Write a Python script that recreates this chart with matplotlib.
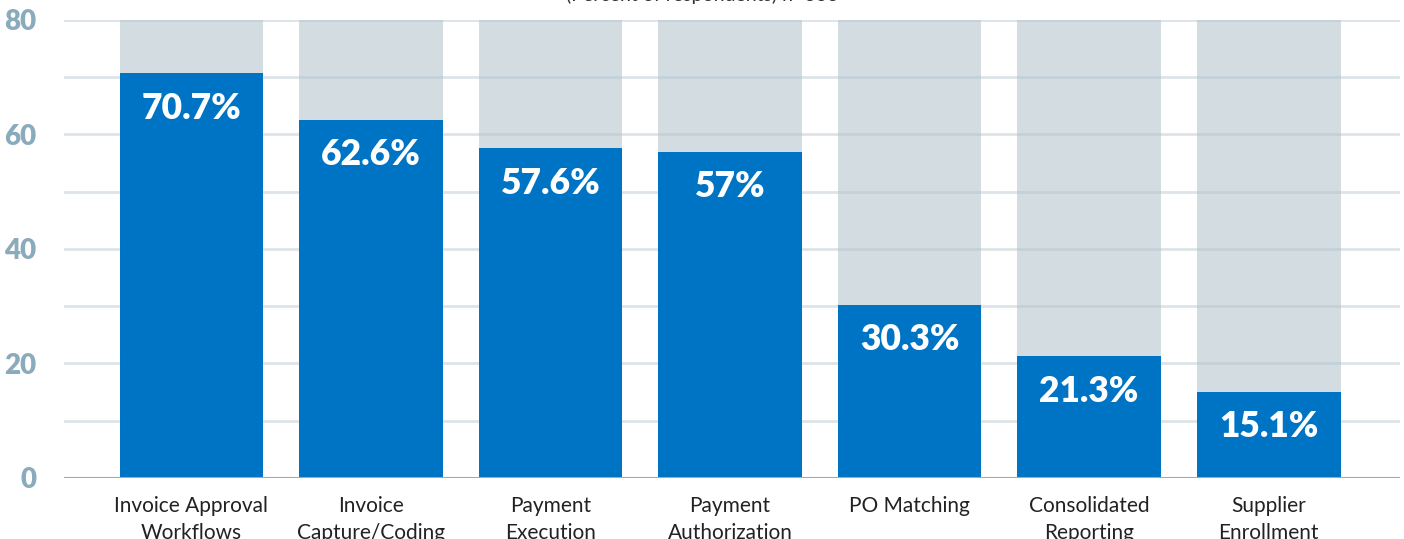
import matplotlib
matplotlib.use("Agg")
import matplotlib.pyplot as plt

categories = ["Invoice Approval\nWorkflows", "Invoice\nCapture/Coding", "Payment\nExecution",
              "Payment\nAuthorization", "PO Matching", "Consolidated\nReporting", "Supplier\nEnrollment"]
values = [70.7, 62.6, 57.6, 57.0, 30.3, 21.3, 15.1]
value_labels = ["70.7%", "62.6%", "57.6%", "57%", "30.3%", "21.3%", "15.1%"]
y_ticks = [0, 20, 40, 60, 80]
subtitle = "(Percent of respondents) n=333"

plt.rcParams['font.family'] = ['Lato', 'DejaVu Sans']

fig = plt.figure(figsize=(14.04, 5.39), dpi=100)
ax = fig.add_axes([0.0456, 0.1132, 0.9514, 0.8498])

x = list(range(len(categories)))
ax.bar(x, [80] * len(x), width=0.8, color='#d3dce0', zorder=1)
for yv in range(10, 81, 10):
    ax.axhline(yv, color='#b3c4cf', alpha=0.45, lw=2, zorder=1.5)
ax.bar(x, values, width=0.8, color='#0074c4', zorder=2)
ax.axhline(0, color='#8fb0c1', lw=2.2, zorder=3)

for xi, v, lab in zip(x, values, value_labels):
    ax.annotate(lab, (xi, v), xytext=(0, -35), textcoords='offset pixels',
                ha='center', va='center', color='white', fontsize=25.5,
                fontweight='heavy', zorder=4)

ax.set_xlim(-0.71, 6.73)
ax.set_ylim(0, 80)
ax.set_yticks(y_ticks)
ax.set_yticklabels([str(t) for t in y_ticks], fontsize=20, fontweight='heavy', color='#8aabbc')
ax.set_xticks(x)
ax.set_xticklabels(categories, fontsize=15, color='#222222', linespacing=1.45)
ax.tick_params(axis='both', length=0)
ax.tick_params(axis='y', pad=20)
ax.tick_params(axis='x', pad=13)
for s in ax.spines.values():
    s.set_visible(False)

fig.text(0.5, 1 - 4 / 539, subtitle, ha='center', va='bottom', fontsize=14, color='#333333')

fig.savefig("out.png", dpi=100)
